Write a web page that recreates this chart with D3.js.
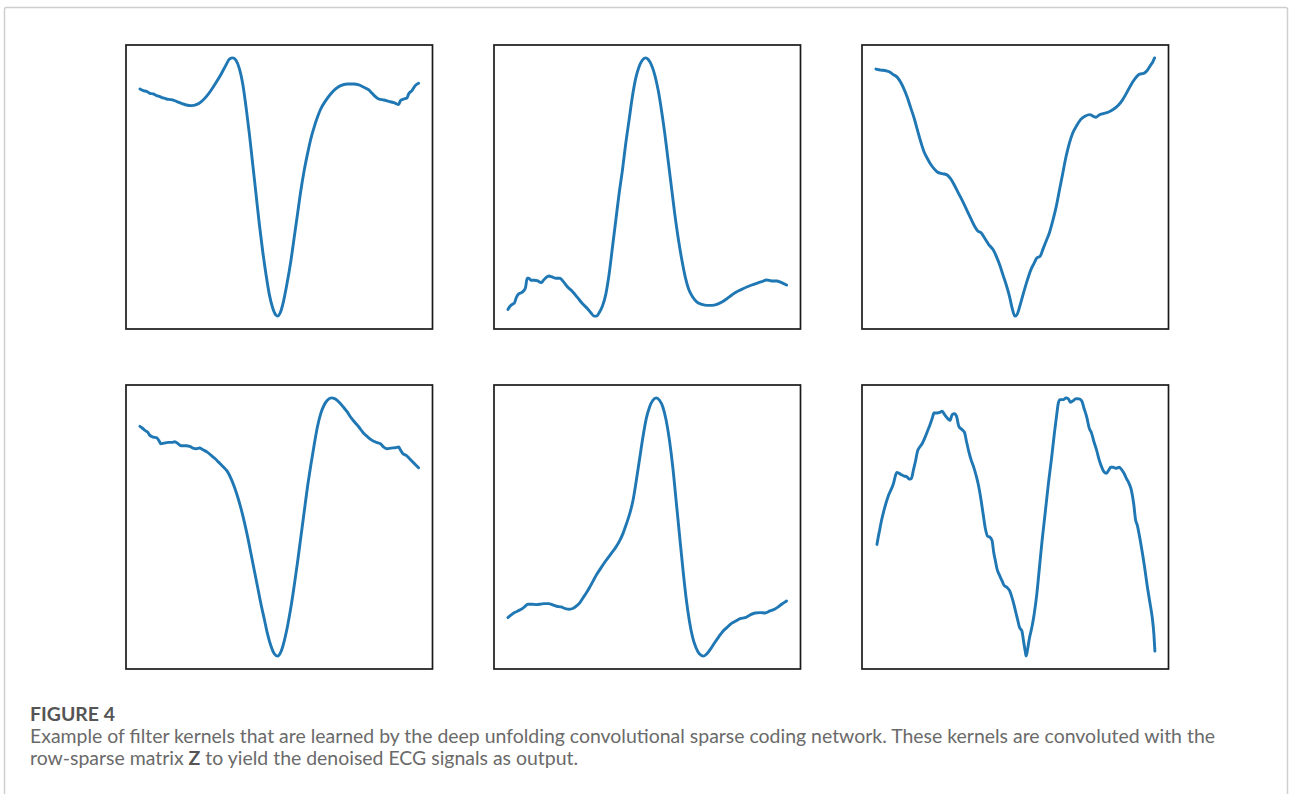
<!DOCTYPE html>
<html>
<head>
<meta charset="utf-8">
<script src="https://cdn.jsdelivr.net/npm/d3@7"></script>
<style>
  html, body { margin: 0; padding: 0; background: #fff; }
  svg { display: block; }
</style>
</head>
<body>
<svg id="chart" width="1290" height="794"></svg>
<script>
// ---- Data: learned filter kernels, [sample index, amplitude] ----
const kernel1 = [[0,2.95],[1,2.90],[2,2.88],[3,2.82],[4,2.80],[5,2.75],[6,2.72],[7,2.68],[8,2.65],[9.5,2.63],[11,2.58],[12.5,2.52],[14,2.47],[15.5,2.45],[17,2.48],[18.5,2.57],[20,2.72],[21.5,2.92],[23,3.15],[24.5,3.40],[26,3.68],[27,3.85],[28,3.88],[29,3.80],[30,3.55],[31,3.10],[32,2.40],[33,1.60],[34,0.70],[35,-0.20],[36,-1.10],[37,-1.90],[38,-2.60],[39,-3.20],[40,-3.60],[41,-3.82],[41.5,-3.85],[42.3,-3.75],[43.3,-3.40],[44.3,-2.90],[45.5,-2.20],[46.5,-1.50],[47.5,-0.80],[48.5,-0.10],[49.5,0.50],[50.5,1.00],[51.5,1.45],[52.5,1.80],[53.5,2.10],[54.5,2.35],[56,2.60],[57.5,2.80],[59,2.95],[60.5,3.05],[62.5,3.10],[64.5,3.10],[66,3.07],[67.5,3.00],[69,2.92],[70,2.82],[71,2.72],[72,2.65],[73.5,2.62],[75,2.58],[76.5,2.54],[77.5,2.50],[78,2.48],[78.5,2.60],[79.5,2.65],[80.5,2.68],[81,2.80],[82,2.90],[83,3.05],[84,3.12]];

const kernel2 = [[0,-3.65],[0.7,-3.55],[1.3,-3.50],[2,-3.45],[2.5,-3.30],[3.3,-3.18],[4,-3.15],[4.7,-3.10],[5.3,-3.00],[5.8,-2.72],[6.3,-2.72],[7,-2.78],[8,-2.78],[9,-2.80],[10,-2.85],[10.7,-2.78],[11.5,-2.70],[12.3,-2.65],[13.3,-2.68],[14.5,-2.72],[15.7,-2.72],[16.7,-2.82],[18,-2.98],[19.5,-3.12],[21,-3.30],[22.5,-3.48],[24,-3.63],[25,-3.75],[26,-3.85],[26.7,-3.85],[27.5,-3.75],[28.5,-3.55],[29.5,-3.20],[30.5,-2.60],[31.5,-1.80],[32.5,-1.00],[33.5,-0.20],[34.5,0.50],[35.5,1.30],[36.5,2.00],[37.5,2.70],[38.5,3.25],[39.5,3.60],[40.5,3.80],[41.5,3.87],[42.3,3.82],[43.3,3.65],[44.3,3.35],[45.3,2.90],[46.3,2.30],[47.3,1.60],[48.3,0.80],[49.3,0.00],[50.3,-0.80],[51.3,-1.50],[52.3,-2.10],[53.5,-2.70],[54.5,-3.05],[55.7,-3.28],[57,-3.43],[58.5,-3.50],[60,-3.53],[61.5,-3.53],[63,-3.50],[64.5,-3.43],[66,-3.33],[67.5,-3.22],[69,-3.12],[70.5,-3.05],[72,-2.98],[73.5,-2.92],[75,-2.87],[76.5,-2.82],[78,-2.77],[79.5,-2.80],[81,-2.80],[82.5,-2.85],[84,-2.92]];

const kernel3 = [[0,3.50],[1.5,3.47],[3,3.45],[4,3.42],[5,3.35],[6.5,3.25],[7.5,3.10],[8.5,2.90],[9.5,2.65],[10.5,2.35],[11.5,2.05],[12.5,1.70],[13.5,1.35],[14.5,1.05],[15.5,0.85],[16.5,0.68],[17.5,0.55],[18.5,0.45],[20,0.40],[21.3,0.37],[22.5,0.25],[23.7,0.05],[25,-0.20],[26.3,-0.45],[27.5,-0.70],[28.7,-0.95],[29.7,-1.15],[30.7,-1.30],[31.7,-1.35],[32.7,-1.50],[34,-1.70],[35.3,-1.85],[36.3,-2.05],[37.3,-2.30],[38.3,-2.60],[39.3,-2.90],[40.3,-3.25],[41.1,-3.60],[41.9,-3.82],[42.5,-3.78],[43.3,-3.55],[44.3,-3.20],[45.5,-2.80],[46.7,-2.45],[47.7,-2.25],[48.5,-2.10],[49.5,-2.05],[50.3,-1.85],[51.3,-1.60],[52.3,-1.35],[53.3,-1.00],[54.3,-0.60],[55.3,-0.10],[56.3,0.40],[57.3,0.90],[58.3,1.30],[59.3,1.60],[60.5,1.82],[61.7,2.00],[63,2.10],[64.5,2.15],[65.5,2.10],[66.3,2.07],[67.3,2.14],[68.5,2.18],[70,2.22],[71.5,2.30],[73,2.42],[74.3,2.58],[75.5,2.78],[76.7,3.00],[78,3.20],[79.5,3.35],[80.7,3.37],[81.7,3.45],[82.7,3.60],[83.5,3.72],[84,3.83]];

const kernel4 = [[0,3.02],[0.7,2.97],[1.5,2.90],[2.3,2.85],[3,2.75],[4,2.70],[5,2.68],[5.7,2.60],[6.3,2.50],[7.3,2.52],[8.5,2.54],[9.7,2.54],[10.5,2.56],[11.5,2.50],[12.5,2.44],[14,2.44],[15,2.42],[16,2.37],[17,2.35],[18,2.37],[19,2.32],[20.3,2.25],[21.5,2.15],[22.7,2.05],[23.7,1.95],[25,1.82],[26.3,1.68],[27.5,1.45],[28.5,1.20],[29.5,0.90],[30.5,0.55],[31.5,0.15],[32.5,-0.30],[33.5,-0.80],[34.5,-1.30],[35.5,-1.80],[36.5,-2.30],[37.5,-2.75],[38.5,-3.20],[39.5,-3.55],[40.5,-3.78],[41.5,-3.85],[42.5,-3.72],[43.5,-3.40],[44.5,-2.95],[45.5,-2.40],[46.5,-1.75],[47.5,-1.05],[48.5,-0.30],[49.5,0.45],[50.5,1.20],[51.5,1.85],[52.5,2.45],[53.5,3.00],[54.5,3.40],[55.5,3.65],[56.5,3.80],[57.7,3.87],[58.7,3.85],[60,3.75],[61.3,3.60],[62.5,3.45],[63.5,3.30],[64.7,3.15],[66,3.00],[67.3,2.83],[68.7,2.70],[70,2.60],[71.3,2.54],[72.5,2.50],[73.5,2.40],[74.5,2.35],[75.7,2.37],[77,2.38],[78,2.40],[78.5,2.32],[79.3,2.20],[80.3,2.15],[81.3,2.05],[82.3,1.95],[83.3,1.85],[84,1.78]];

const kernel5 = [[0,-2.70],[1,-2.62],[2,-2.55],[3,-2.50],[4,-2.45],[5,-2.38],[6,-2.30],[7.3,-2.30],[8.5,-2.31],[9.7,-2.30],[11,-2.28],[12.3,-2.28],[13.5,-2.32],[14.7,-2.36],[16,-2.38],[17.3,-2.43],[18.5,-2.45],[19.7,-2.42],[20.7,-2.35],[21.7,-2.25],[22.7,-2.10],[23.7,-1.95],[24.7,-1.78],[25.7,-1.60],[26.7,-1.42],[28,-1.22],[29.5,-1.00],[31,-0.80],[32.5,-0.60],[33.7,-0.40],[34.7,-0.18],[35.7,0.10],[36.7,0.40],[37.7,0.80],[38.7,1.40],[39.7,2.05],[40.7,2.70],[41.7,3.25],[42.7,3.60],[43.7,3.80],[44.7,3.87],[45.7,3.80],[46.7,3.60],[47.7,3.20],[48.7,2.60],[49.7,1.80],[50.7,0.80],[51.7,-0.20],[52.7,-1.20],[53.7,-2.10],[54.7,-2.80],[55.7,-3.30],[56.7,-3.60],[57.7,-3.78],[59,-3.85],[60,-3.78],[61,-3.65],[62.3,-3.45],[63.5,-3.28],[64.7,-3.12],[66,-3.00],[67.3,-2.88],[68.7,-2.80],[70,-2.73],[71.5,-2.70],[73,-2.62],[74.5,-2.56],[76,-2.55],[77.5,-2.56],[79,-2.50],[80.5,-2.44],[81.5,-2.38],[82.5,-2.30],[84,-2.20]];

const kernel6 = [[0.3,-0.52],[0.7,-0.30],[1.2,-0.05],[1.7,0.20],[2.3,0.45],[3,0.70],[3.7,0.92],[4.5,1.10],[5.3,1.30],[5.8,1.50],[6.3,1.63],[7,1.60],[7.8,1.55],[8.5,1.52],[9.3,1.50],[10,1.43],[10.7,1.45],[11.3,1.70],[12,2.00],[12.5,2.25],[13.3,2.40],[14,2.50],[14.7,2.65],[15.5,2.85],[16.3,3.05],[17,3.25],[17.5,3.40],[18.5,3.40],[19.3,3.42],[20,3.45],[20.7,3.35],[21.5,3.25],[22.3,3.18],[23,3.35],[23.7,3.38],[24.3,3.30],[25,3.00],[26,2.90],[26.7,2.82],[27.3,2.55],[28,2.25],[28.7,2.00],[29.5,1.78],[30.3,1.50],[31,1.20],[31.7,0.80],[32.3,0.40],[33,-0.05],[33.7,-0.28],[34.3,-0.30],[35,-0.40],[35.5,-0.75],[36,-1.00],[36.5,-1.25],[37.3,-1.45],[38,-1.60],[38.7,-1.75],[39.5,-1.80],[40.3,-1.90],[41,-2.10],[41.7,-2.35],[42.3,-2.60],[42.8,-2.80],[43.3,-3.00],[44,-3.10],[44.5,-3.40],[45,-3.70],[45.3,-3.85],[45.8,-3.60],[46.3,-3.30],[47,-3.00],[47.7,-2.60],[48.5,-2.00],[49.3,-1.20],[50.1,-0.40],[51,0.40],[52,1.30],[53,2.10],[53.8,2.80],[54.5,3.35],[55,3.70],[55.5,3.80],[56.5,3.80],[57.3,3.85],[58,3.82],[58.7,3.72],[59.5,3.77],[60.3,3.83],[61.3,3.82],[62.1,3.75],[62.7,3.55],[63.5,3.30],[64.3,2.95],[65,2.80],[65.7,2.55],[66.5,2.30],[67.3,2.00],[68,1.80],[68.7,1.65],[69.5,1.60],[70.2,1.70],[70.8,1.78],[71.5,1.78],[72.3,1.75],[73.3,1.78],[74,1.72],[74.7,1.62],[75.5,1.45],[76.3,1.30],[77,1.10],[77.7,0.70],[78.3,0.20],[78.8,0.05],[79.5,-0.30],[80.2,-0.70],[81,-1.20],[81.7,-1.70],[82.5,-2.20],[83.3,-2.70],[83.8,-3.20],[84.1,-3.70]];

const kernels = [kernel1, kernel2, kernel3, kernel4, kernel5, kernel6];
const sampleRange = [0, 84];

const captionTitle = "FIGURE 4";
const captionLine1 = "Example of filter kernels that are learned by the deep unfolding convolutional sparse coding network. These kernels are convoluted with the";
const captionLine2a = "row-sparse matrix ";
const captionLine2b = "Z";
const captionLine2c = " to yield the denoised ECG signals as output.";

// ---- Layout ----
const svg = d3.select("#chart");
const colX = [126, 494, 862];
const rowY = [45, 385];
const panelW = 306.5, panelH = 284;
const lineColor = "#1f77b4";

// outer card border
svg.append("rect")
  .attr("x", 4.5).attr("y", 7.5)
  .attr("width", 1283).attr("height", 820)
  .attr("rx", 2)
  .attr("fill", "none")
  .attr("stroke", "#cfcfcf")
  .attr("stroke-width", 1.5);

kernels.forEach((k, i) => {
  const left = colX[i % 3], top = rowY[Math.floor(i / 3)];
  const xs = sampleRange, xPad = (xs[1] - xs[0]) * 0.05;
  const ext = d3.extent(k, d => d[1]), yPad = (ext[1] - ext[0]) * 0.05;
  const x = d3.scaleLinear().domain([xs[0] - xPad, xs[1] + xPad]).range([left, left + panelW]);
  const y = d3.scaleLinear().domain([ext[0] - yPad, ext[1] + yPad]).range([top + panelH, top]);

  const g = svg.append("g").attr("class", "panel");
  g.append("path")
    .datum(k)
    .attr("fill", "none")
    .attr("stroke", lineColor)
    .attr("stroke-width", 2.9)
    .attr("stroke-linejoin", "round")
    .attr("stroke-linecap", "round")
    .attr("d", d3.line().x(d => x(d[0])).y(d => y(d[1])).curve(d3.curveMonotoneX));

  g.append("rect")
    .attr("x", left).attr("y", top)
    .attr("width", panelW).attr("height", panelH)
    .attr("fill", "none")
    .attr("stroke", "#1a1a1a")
    .attr("stroke-width", 1.7);
});

// ---- Caption ----
const font = "Lato, 'Open Sans', sans-serif";
const cap = svg.append("g").attr("font-family", font);
const t1 = cap.append("text")
  .attr("x", 30).attr("y", 743)
  .attr("fill", "#6a6a6a")
  .attr("font-size", 100)
  .text(captionLine1);
const targetW = 1186;
const fs = 100 * targetW / t1.node().getComputedTextLength();
t1.attr("font-size", fs);

cap.append("text")
  .attr("x", 30).attr("y", 721)
  .attr("fill", "#555")
  .attr("font-size", fs)
  .attr("font-weight", 700)
  .text(captionTitle);

const t2 = cap.append("text")
  .attr("x", 30).attr("y", 765)
  .attr("fill", "#6a6a6a")
  .attr("font-size", fs);
t2.append("tspan").text(captionLine2a);
t2.append("tspan").attr("font-weight", 700).attr("fill", "#555").text(captionLine2b);
t2.append("tspan").text(captionLine2c);
</script>
</body>
</html>
